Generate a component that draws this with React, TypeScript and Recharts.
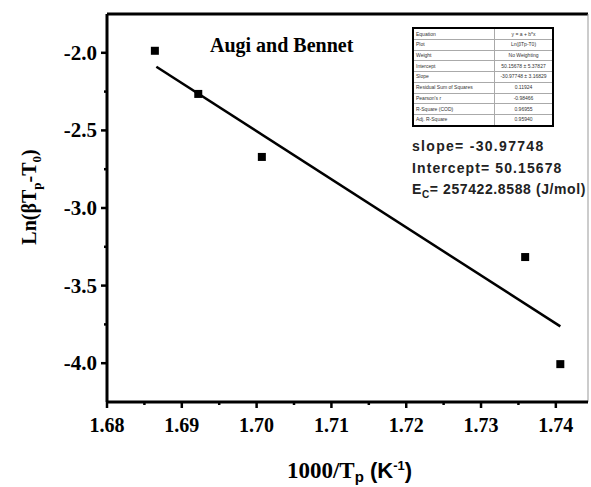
import React from 'react';
import { ScatterChart, Scatter, XAxis, YAxis, ZAxis, ReferenceLine } from 'recharts';

// measured points (1000/Tp, Ln(beta*Tp - T0))
const xVals = [1.6864, 1.6922, 1.7007, 1.7359, 1.7406];
const yVals = [-1.987, -2.265, -2.671, -3.316, -4.006];

// linear fit end points
const fitX = [1.6866, 1.7406];
const fitY = [-2.090, -3.763];

const xMajor = [1.68, 1.69, 1.70, 1.71, 1.72, 1.73, 1.74];
const xMinor = [1.685, 1.695, 1.705, 1.715, 1.725, 1.735];
const yMajor = [-4.0, -3.5, -3.0, -2.5, -2.0];
const yMinor = [-3.75, -3.25, -2.75, -2.25];
const xDomain = [1.68, 1.7443];
const yDomain = [-4.25, -1.75];

const fitRows = [
  ['Equation', 'y = a + b*x'],
  ['Plot', 'Ln(βTp-T0)'],
  ['Weight', 'No Weighting'],
  ['Intercept', '50.15678 ± 5.37827'],
  ['Slope', '-30.97748 ± 3.16829'],
  ['Residual Sum of Squares', '0.11924'],
  ["Pearson's r", '-0.98466'],
  ['R-Square (COD)', '0.96955'],
  ['Adj. R-Square', '0.95940'],
];

const points = xVals.map((x, i) => ({ x, y: yVals[i] }));
const fitLine = fitX.map((x, i) => ({ x, y: fitY[i] }));

const serif = 'Liberation Serif';
const sans = 'Liberation Sans';

const isIn = (arr: number[], v: number) => arr.some((a) => Math.abs(a - v) < 1e-6);

const renderXTick = (props: any) => {
  const { x, y, payload } = props;
  const major = isIn(xMajor, payload.value);
  return (
    <g key={`xt-${payload.value}`}>
      <line x1={x} x2={x} y1={y} y2={y + (major ? 6 : 3)} stroke="#000" strokeWidth={2.5} />
      {major && (
        <text x={x} y={y + 30} textAnchor="middle" fill="#000" fontFamily={serif} fontWeight="bold" fontSize={20}>
          {payload.value.toFixed(2)}
        </text>
      )}
    </g>
  );
};

const renderYTick = (props: any) => {
  const { x, y, payload } = props;
  const major = isIn(yMajor, payload.value);
  return (
    <g key={`yt-${payload.value}`}>
      <line x1={x} x2={x - (major ? 6 : 3)} y1={y} y2={y} stroke="#000" strokeWidth={2.5} />
      {major && (
        <text x={x - 10} y={y + 7} textAnchor="end" fill="#000" fontFamily={serif} fontWeight="bold" fontSize={21}>
          {payload.value.toFixed(1)}
        </text>
      )}
    </g>
  );
};

const YTitle = (props: any) => {
  const { viewBox } = props;
  const cx = viewBox.x + 36;
  const cy = viewBox.y + viewBox.height / 2 - 11;
  return (
    <text
      x={cx}
      y={cy}
      transform={`rotate(-90, ${cx}, ${cy})`}
      textAnchor="middle"
      fill="#000"
      fontFamily={serif}
      fontWeight="bold"
      fontSize={20}
    >
      Ln(βT<tspan dy={5} fontSize={13}>p</tspan>
      <tspan dy={-5}>-T</tspan>
      <tspan dy={5} fontSize={13}>0</tspan>
      <tspan dy={-5}>)</tspan>
    </text>
  );
};

const XTitle = (props: any) => {
  const { viewBox } = props;
  const cx = viewBox.x + viewBox.width / 2 + 2;
  const cy = viewBox.y + 76;
  return (
    <text x={cx} y={cy} textAnchor="middle" fill="#000" fontFamily={serif} fontWeight="bold" fontSize={23}>
      1000/T
      <tspan dy={4} fontFamily={sans} fontSize={15}>p</tspan>
      <tspan dy={-4} fontFamily={sans} fontSize={22}> (K</tspan>
      <tspan dy={-8} fontFamily={sans} fontSize={13}>-1</tspan>
      <tspan dy={8} fontFamily={sans} fontSize={22}>)</tspan>
    </text>
  );
};

const Square = (props: any) => {
  const { cx, cy } = props;
  return <rect x={cx - 4} y={cy - 4} width={8} height={8} fill="#000" />;
};

export default function App() {
  return (
    <div style={{ position: 'absolute', left: 0, top: 0, width: 591, height: 487, background: '#fff' }}>
      <ScatterChart width={591} height={487} margin={{ top: 14, right: 3, bottom: 0, left: 0 }}>
        <XAxis
          type="number"
          dataKey="x"
          domain={xDomain}
          ticks={[...xMajor, ...xMinor].sort((a, b) => a - b)}
          interval={0}
          allowDataOverflow
          height={85}
          tickSize={0}
          tickMargin={0}
          tick={renderXTick}
          axisLine={{ stroke: '#000', strokeWidth: 3 }}
          label={{ content: <XTitle /> }}
        />
        <YAxis
          type="number"
          dataKey="y"
          domain={yDomain}
          ticks={[...yMajor, ...yMinor].sort((a, b) => a - b)}
          interval={0}
          allowDataOverflow
          width={107}
          tickSize={0}
          tickMargin={0}
          tick={renderYTick}
          axisLine={{ stroke: '#000', strokeWidth: 3 }}
          label={{ content: <YTitle /> }}
        />
        <ZAxis range={[64, 64]} />
        <ReferenceLine y={yDomain[1]} stroke="#000" strokeWidth={3} />
        <ReferenceLine x={xDomain[1]} stroke="#999" strokeWidth={1} />
        <Scatter
          data={fitLine}
          line={{ stroke: '#000', strokeWidth: 2.5 }}
          shape={() => <g />}
          isAnimationActive={false}
        />
        <Scatter data={points} shape={<Square />} isAnimationActive={false} />
      </ScatterChart>

      <div style={{ position: 'absolute', left: 210, top: 35, fontFamily: serif, fontWeight: 'bold', fontSize: 20, lineHeight: '20px' }}>
        Augi and Bennet
      </div>

      <table
        style={{
          position: 'absolute',
          left: 412,
          top: 27,
          width: 142,
          height: 100,
          borderCollapse: 'collapse',
          border: '2px solid #000',
          fontFamily: sans,
          fontSize: 5,
          lineHeight: '5px',
          color: '#333',
          background: '#fff',
        }}
      >
        <tbody>
          {fitRows.map((r) => (
            <tr key={r[0]}>
              <td style={{ border: '1px solid #aaa', padding: '0 2px', whiteSpace: 'nowrap', width: 76 }}>{r[0]}</td>
              <td style={{ border: '1px solid #aaa', padding: '0 2px', whiteSpace: 'nowrap', textAlign: 'center' }}>{r[1]}</td>
            </tr>
          ))}
        </tbody>
      </table>

      <div
        style={{
          position: 'absolute',
          left: 412,
          top: 136,
          fontFamily: sans,
          fontWeight: 'bold',
          fontSize: 14,
          color: '#222',
          lineHeight: '21.5px',
          letterSpacing: 0.6,
          whiteSpace: 'nowrap',
        }}
      >
        <div style={{ letterSpacing: 1.3 }}>slope= -30.97748</div>
        <div style={{ letterSpacing: 1.1 }}>Intercept= 50.15678</div>
        <div>
          E<sub style={{ fontSize: 10, lineHeight: 0 }}>C</sub>= 257422.8588 (J/mol)
        </div>
      </div>
    </div>
  );
}
